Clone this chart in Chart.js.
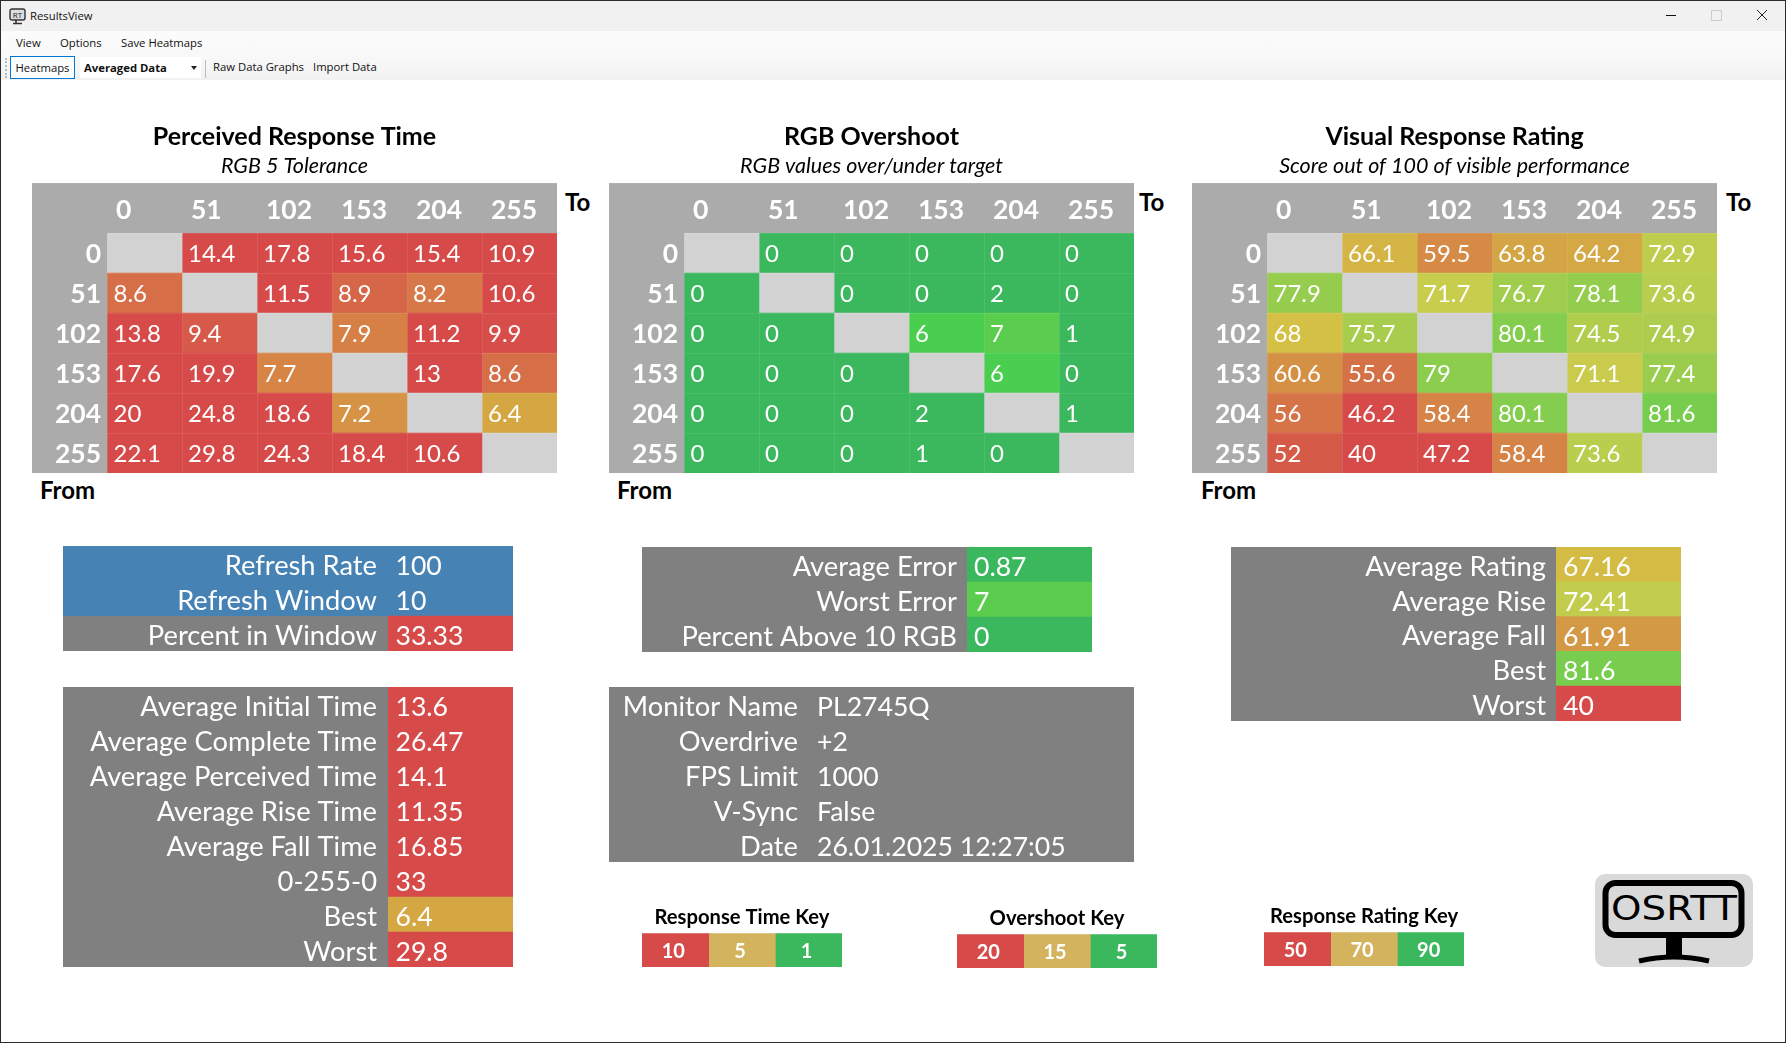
<!DOCTYPE html>
<html>
<head>
<meta charset="utf-8">
<title>ResultsView</title>
<script src="https://cdn.jsdelivr.net/npm/chart.js@4"></script>
<style>
html, body { margin: 0; padding: 0; background: #fff; }
#win { position: relative; width: 1786px; height: 1043px; overflow: hidden; background: #fff; font-family: "Open Sans", sans-serif; color: #111; }
#win canvas { position: absolute; }
.frame { position: absolute; background: #2b2b2b; }
.bar { position: absolute; left: 1px; right: 1px; }
.t { position: absolute; font-size: 11.3px; line-height: 16px; white-space: nowrap; }
.corner { position: absolute; font-family: Lato, sans-serif; font-weight: 700; font-size: 24px; line-height: 26px; color: #000; }
</style>
</head>
<body>
<div id="win">
  <div class="bar" style="top:1px;height:30px;background:#f1f1f1"></div>
  <div class="bar" style="top:31px;height:24px;background:linear-gradient(#fcfcfc,#f8f8f8)"></div>
  <div class="bar" style="top:55px;height:25px;background:linear-gradient(#f9f9f9,#f1f1f1)"></div>
  <div class="frame" style="left:0;top:0;width:1786px;height:1px"></div>
  <div class="frame" style="left:0;top:0;width:1px;height:1043px"></div>
  <div class="frame" style="left:1785px;top:0;width:1px;height:1043px"></div>
  <div class="frame" style="left:0;top:1042px;width:1786px;height:1px"></div>

  <svg style="position:absolute;left:9px;top:8px" width="17" height="17" viewBox="0 0 17 17">
    <rect x="1" y="1" width="15" height="11" rx="2" fill="#ddd" stroke="#333" stroke-width="1.4"/>
    <text x="8.5" y="9.5" font-size="8" text-anchor="middle" font-family="Open Sans" fill="#222">RT</text>
    <path d="M7 12v3M4 15.5h9" stroke="#333" stroke-width="1.6"/>
  </svg>
  <div class="t" style="left:30px;top:8px">ResultsView</div>
  <div class="t" style="left:16px;top:35px">View</div>
  <div class="t" style="left:60px;top:35px">Options</div>
  <div class="t" style="left:121px;top:35px">Save Heatmaps</div>
  <div style="position:absolute;left:5px;top:58px;height:20px;border-left:2px dotted #bbb"></div>
  <div class="t" style="left:10px;top:56px;width:63px;height:21px;line-height:21px;text-align:center;background:#fdfdfd;border:1px solid #0078d7">Heatmaps</div>
  <div style="position:absolute;left:80px;top:57px;width:121px;height:21px;background:#fff"></div>
  <div class="t" style="left:84px;top:60px;font-weight:700">Averaged Data</div>
  <div style="position:absolute;left:191px;top:66px;border:3px solid transparent;border-top:4px solid #222"></div>
  <div style="position:absolute;left:205px;top:60px;width:1px;height:18px;background:#bbb"></div>
  <div class="t" style="left:213px;top:59px">Raw Data Graphs</div>
  <div class="t" style="left:313px;top:59px">Import Data</div>

  <div style="position:absolute;left:1666px;top:15px;width:10px;height:1px;background:#111"></div>
  <div style="position:absolute;left:1711px;top:10px;width:9px;height:9px;border:1px solid #ccc"></div>
  <svg style="position:absolute;left:1756px;top:9px" width="12" height="12"><path d="M1 1l10 10M11 1l-10 10" stroke="#222" stroke-width="1"/></svg>

  <div class="corner" style="left:40px;top:477px">From</div>
  <div class="corner" style="left:565px;top:189px">To</div>
  <div class="corner" style="left:617px;top:477px">From</div>
  <div class="corner" style="left:1139px;top:189px">To</div>
  <div class="corner" style="left:1201px;top:477px">From</div>
  <div class="corner" style="left:1726px;top:189px">To</div>

  <svg style="position:absolute;left:1595px;top:874px" width="158" height="93" viewBox="0 0 158 93">
    <rect width="158" height="93" rx="10" fill="#d9d9d9"/>
    <rect x="10.5" y="9" width="136" height="52" rx="10" fill="none" stroke="#000" stroke-width="6"/>
    <text x="16" y="46" font-family="DejaVu Sans" font-size="34" textLength="126" lengthAdjust="spacingAndGlyphs" fill="#000">OSRTT</text>
    <rect x="71" y="62" width="16" height="20" fill="#000"/>
    <path d="M44 87q35-8 70 0" fill="none" stroke="#000" stroke-width="5"/>
  </svg>
</div>

<script>
// transition levels, same for columns and rows
const levels = ["0", "51", "102", "153", "204", "255"];

const perceivedTime = [
    [null, 14.4, 17.8, 15.6, 15.4, 10.9],
    [8.6, null, 11.5, 8.9, 8.2, 10.6],
    [13.8, 9.4, null, 7.9, 11.2, 9.9],
    [17.6, 19.9, 7.7, null, 13, 8.6],
    [20, 24.8, 18.6, 7.2, null, 6.4],
    [22.1, 29.8, 24.3, 18.4, 10.6, null]
];
const rgbOvershoot = [
    [null, 0, 0, 0, 0, 0],
    [0, null, 0, 0, 2, 0],
    [0, 0, null, 6, 7, 1],
    [0, 0, 0, null, 6, 0],
    [0, 0, 0, 2, null, 1],
    [0, 0, 0, 1, 0, null]
];
const visualRating = [
    [null, 66.1, 59.5, 63.8, 64.2, 72.9],
    [77.9, null, 71.7, 76.7, 78.1, 73.6],
    [68, 75.7, null, 80.1, 74.5, 74.9],
    [60.6, 55.6, 79, null, 71.1, 77.4],
    [56, 46.2, 58.4, 80.1, null, 81.6],
    [52, 40, 47.2, 58.4, 73.6, null]
];

const refreshLabels = ["Refresh Rate", "Refresh Window", "Percent in Window"];
const refreshValues = ["100", "10", "33.33"];
const timeLabels = ["Average Initial Time", "Average Complete Time", "Average Perceived Time", "Average Rise Time", "Average Fall Time", "0-255-0", "Best", "Worst"];
const timeValues = ["13.6", "26.47", "14.1", "11.35", "16.85", "33", "6.4", "29.8"];
const errorLabels = ["Average Error", "Worst Error", "Percent Above 10 RGB"];
const errorValues = ["0.87", "7", "0"];
const infoLabels = ["Monitor Name", "Overdrive", "FPS Limit", "V-Sync", "Date"];
const infoValues = ["PL2745Q", "+2", "1000", "False", "26.01.2025 12:27:05"];
const ratingLabels = ["Average Rating", "Average Rise", "Average Fall", "Best", "Worst"];
const ratingValues = ["67.16", "72.41", "61.91", "81.6", "40"];

const responseTimeKey = [10, 5, 1];
const overshootKey = [20, 15, 5];
const ratingKey = [50, 70, 90];

// colours
const RED = [215, 74, 74], GREEN = [59, 184, 93];
const EMPTY = "#d2d2d2", HEADER = "#ababab", PANEL = "#808080", BLUE = "#4682b4";
const keyColors = ["#d64a4a", "#d3b35e", "#3bb85d"];

const timeStops = [[6.2, [213, 172, 67]], [10, RED]];
const overshootStops = [[5, GREEN], [6, [74, 206, 80]], [7, [90, 205, 78]], [15, [213, 172, 67]], [20, RED]];
const ratingStops = [[47.2, RED], [52, [213, 90, 71]], [68, [212, 192, 68]], [71.7, [200, 205, 78]], [81.6, [120, 205, 78]], [90, GREEN]];

function stopColor(stops, v) {
    if (v === null) return EMPTY;
    if (v <= stops[0][0]) return "rgb(" + stops[0][1] + ")";
    for (let i = 1; i < stops.length; i++) {
        if (v <= stops[i][0]) {
            let t = (v - stops[i - 1][0]) / (stops[i][0] - stops[i - 1][0]);
            let c = stops[i - 1][1].map((a, k) => Math.round(a + (stops[i][1][k] - a) * t));
            return "rgb(" + c + ")";
        }
    }
    return "rgb(" + stops[stops.length - 1][1] + ")";
}

Chart.defaults.font.family = "Lato";
Chart.defaults.color = "#fff";
Chart.defaults.animation = false;
Chart.defaults.plugins.legend.display = false;
Chart.defaults.plugins.tooltip.enabled = false;

function addCanvas(left, top, w, h) {
    let c = document.createElement("canvas");
    c.width = w;
    c.height = h;
    c.style.left = left + "px";
    c.style.top = top + "px";
    c.style.width = w + "px";
    c.style.height = h + "px";
    document.getElementById("win").appendChild(c);
    return c.getContext("2d");
}

function dropPadding(scale) {
    scale.paddingLeft = scale.paddingRight = scale.paddingTop = scale.paddingBottom = 0;
}

// writes a value in each bar, text(datasetIndex, row) gives the string
function barText(text, font, offset, centered, lift) {
    return {
        id: "barText",
        afterDatasetsDraw(chart) {
            let ctx = chart.ctx;
            ctx.save();
            ctx.fillStyle = "#fff";
            ctx.font = font;
            ctx.textBaseline = "middle";
            ctx.textAlign = centered ? "center" : "left";
            chart.data.datasets.forEach((ds, d) => {
                chart.getDatasetMeta(d).data.forEach((bar, r) => {
                    let s = text(d, r);
                    if (s === null) return;
                    let x = (centered ? (bar.base + bar.x) / 2 : bar.base) + offset;
                    ctx.fillText(s, x, bar.y + lift);
                });
            });
            ctx.restore();
        }
    };
}

function heatmap(left, top, width, padLeft, title, sub, values, stops) {
    let datasets = levels.map((l, c) => ({
        data: levels.map(() => [c, c + 1]),
        backgroundColor: values.map(row => stopColor(stops, row[c])),
        barPercentage: 1,
        categoryPercentage: 1,
        grouped: false
    }));
    new Chart(addCanvas(left, top, width, 351), {
        type: "bar",
        data: { labels: levels, datasets: datasets },
        options: {
            indexAxis: "y",
            responsive: false,
            devicePixelRatio: 1,
            layout: { padding: { left: padLeft, right: width - padLeft - 525, top: 0, bottom: 0 } },
            plugins: {
                title: { display: true, text: title, color: "#000", font: { size: 25, weight: "700", lineHeight: 1.2 }, padding: { top: 0, bottom: 2 } },
                subtitle: { display: true, text: sub, color: "#000", font: { size: 21.5, style: "italic", lineHeight: 1.12 }, padding: { top: 0, bottom: 5 } }
            },
            scales: {
                x: {
                    type: "linear",
                    position: "top",
                    min: 0,
                    max: 6,
                    afterBuildTicks(s) { s.ticks = levels.map((l, i) => ({ value: i })); },
                    afterFit(s) { s.height = 50; dropPadding(s); },
                    grid: { color: "rgba(255,255,255,0.09)", drawTicks: false, z: 1 },
                    border: { display: false },
                    ticks: {
                        callback: (v, i) => levels[i],
                        align: "start",
                        labelOffset: 9,
                        padding: 7,
                        autoSkip: false,
                        maxRotation: 0,
                        font: { size: 26.5, weight: "700" }
                    }
                },
                y: {
                    afterFit(s) { s.width = 75; dropPadding(s); },
                    grid: { color: "rgba(255,255,255,0.09)", drawTicks: false, z: 1 },
                    border: { display: false },
                    ticks: { padding: 6, labelOffset: 1, autoSkip: false, font: { size: 26.5, weight: "700" } }
                }
            }
        },
        plugins: [
            {
                id: "headerBack",
                beforeDraw(chart) {
                    let a = chart.chartArea;
                    chart.ctx.fillStyle = HEADER;
                    chart.ctx.fillRect(a.left - 75, a.top - 50, a.right - a.left + 75, a.bottom - a.top + 50);
                }
            },
            barText((c, r) => values[r][c] === null ? null : String(values[r][c]), "24px Lato", 6, false, 1.5)
        ]
    });
}

heatmap(-6, 122, 589, 38, "Perceived Response Time", "RGB 5 Tolerance", perceivedTime, timeStops);
heatmap(568, 122, 602, 41, "RGB Overshoot", "RGB values over/under target", rgbOvershoot, overshootStops);
heatmap(1160, 122, 600, 32, "Visual Response Rating", "Score out of 100 of visible performance", visualRating, ratingStops);

// label/value panel: row labels on the y axis, value cell as a full width bar
function statPanel(left, top, width, height, labelWidth, labelPad, textPad, labels, values, colors, rowBacks) {
    new Chart(addCanvas(left, top, width, height), {
        type: "bar",
        data: {
            labels: labels,
            datasets: [{
                data: labels.map(() => [0, 1]),
                backgroundColor: colors,
                barPercentage: 1,
                categoryPercentage: 1
            }]
        },
        options: {
            indexAxis: "y",
            responsive: false,
            devicePixelRatio: 1,
            scales: {
                x: { display: false, type: "linear", min: 0, max: 1 },
                y: {
                    afterFit(s) { s.width = labelWidth; dropPadding(s); },
                    grid: { display: false, drawTicks: false },
                    border: { display: false },
                    ticks: { padding: labelPad, labelOffset: 2.5, autoSkip: false, font: { size: 27.3 } }
                }
            }
        },
        plugins: [
            {
                id: "panelBack",
                beforeDraw(chart) {
                    let ctx = chart.ctx, rowH = chart.height / labels.length;
                    labels.forEach((l, i) => {
                        ctx.fillStyle = rowBacks ? rowBacks[i] : PANEL;
                        ctx.fillRect(0, i * rowH, chart.width, rowH + 1);
                    });
                }
            },
            barText((d, r) => values[r], "26.6px Lato", textPad, false, 3)
        ]
    });
}

statPanel(63, 546, 450, 105, 325, 11, 7.5, refreshLabels, refreshValues, [BLUE, BLUE, "rgb(" + RED + ")"], [BLUE, BLUE, PANEL]);
statPanel(63, 687, 450, 280, 325, 11, 7.5, timeLabels, timeValues, timeValues.map(v => stopColor(timeStops, Number(v))));
statPanel(642, 547, 450, 105, 325, 10, 7, errorLabels, errorValues, errorValues.map(v => stopColor(overshootStops, Number(v))));
statPanel(609, 687, 525, 175, 198, 9, 10, infoLabels, infoValues, infoLabels.map(() => PANEL));
statPanel(1231, 547, 450, 174, 325, 10, 7, ratingLabels, ratingValues, ratingValues.map(v => stopColor(ratingStops, Number(v))));

function colorKey(left, top, title, values) {
    let datasets = values.map((v, i) => ({
        data: [[i, i + 1]],
        backgroundColor: keyColors[i],
        barPercentage: 1,
        categoryPercentage: 1,
        grouped: false
    }));
    new Chart(addCanvas(left, top, 200, 62), {
        type: "bar",
        data: { labels: [title], datasets: datasets },
        options: {
            indexAxis: "y",
            responsive: false,
            devicePixelRatio: 1,
            plugins: {
                title: { display: true, text: title, color: "#000", font: { size: 20.2, weight: "700", lineHeight: 1.2 }, padding: { top: 0, bottom: 4 } }
            },
            scales: {
                x: { display: false, type: "linear", min: 0, max: 3 },
                y: { display: false }
            }
        },
        plugins: [barText((d) => String(values[d]), "700 20px Lato", -2, true, 1.5)]
    });
}

colorKey(642, 905, "Response Time Key", responseTimeKey);
colorKey(957, 906, "Overshoot Key", overshootKey);
colorKey(1264, 904, "Response Rating Key", ratingKey);
</script>
</body>
</html>
